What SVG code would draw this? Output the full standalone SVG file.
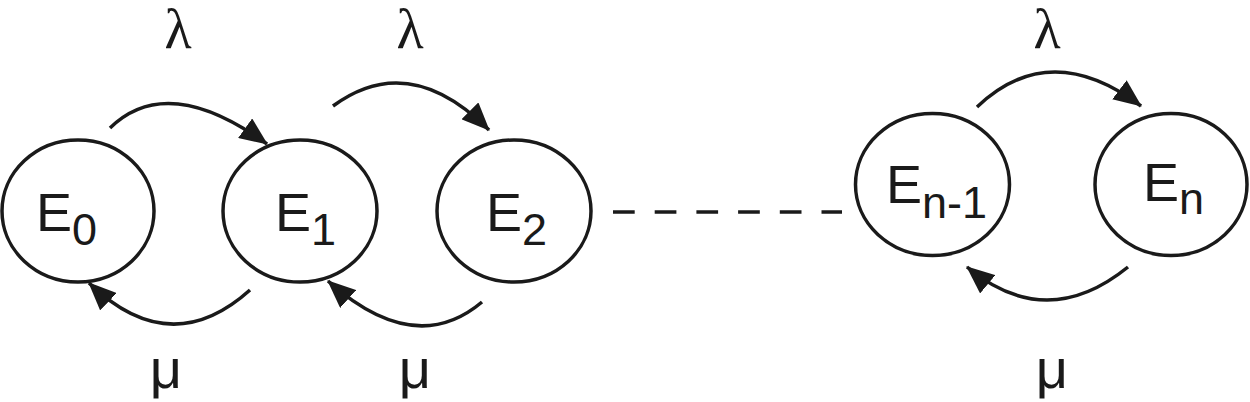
<svg xmlns="http://www.w3.org/2000/svg" width="1250" height="402" viewBox="0 0 1250 402">
<style>
.node{fill:#fff;stroke:#1a1a1a;stroke-width:3.5}
.lbl{font-family:"Liberation Sans",Arial,sans-serif;font-size:54px;fill:#1a1a1a}
.sub{font-size:45px}
.lam{font-family:"Liberation Serif","Times New Roman",serif;font-size:56px;fill:#1a1a1a;text-anchor:middle}
.mu{font-family:"Liberation Sans",Arial,sans-serif;font-size:56px;fill:#1a1a1a;text-anchor:middle}
.edge{fill:none;stroke:#1a1a1a;stroke-width:3.5;marker-end:url(#ah)}
.dash{fill:none;stroke:#1a1a1a;stroke-width:3.5;stroke-dasharray:21.7 20}
</style>
<defs>
<marker id="ah" markerUnits="userSpaceOnUse" markerWidth="28" markerHeight="24" refX="27" refY="12" orient="auto">
<path d="M0,0 L28,12 L0,24 z" fill="#1a1a1a"/>
</marker>
</defs>
<rect width="1250" height="402" fill="#fff"/>
<g id="connectors">
<path class="edge" d="M110,128 Q167.5,72 267,144"/>
<path class="edge" d="M333,106 Q409,50 489,130"/>
<path class="edge" d="M977,107 Q1050,37.5 1141,106"/>
<path class="edge" d="M250,290 Q170.5,361.5 89,283"/>
<path class="edge" d="M482,302 Q415,358.5 328,281"/>
<path class="edge" d="M1128,267 Q1046.5,333 967,267"/>
<path class="dash" d="M613,212 H842"/>
</g>
<g id="E0">
<ellipse class="node" cx="78" cy="211" rx="76" ry="71"/>
<text class="lbl" x="36" y="231">E<tspan class="sub" dy="14">0</tspan></text>
</g>
<g id="E1">
<ellipse class="node" cx="300" cy="211" rx="77" ry="71"/>
<text class="lbl" x="275" y="231">E<tspan class="sub" dy="14">1</tspan></text>
</g>
<g id="E2">
<ellipse class="node" cx="514" cy="211" rx="77" ry="71"/>
<text class="lbl" x="486" y="231">E<tspan class="sub" dy="14">2</tspan></text>
</g>
<g id="En-1">
<ellipse class="node" cx="932.5" cy="184.5" rx="77" ry="71"/>
<text class="lbl" x="886" y="203">E<tspan class="sub" dy="15">n-1</tspan></text>
</g>
<g id="En">
<ellipse class="node" cx="1171" cy="184.5" rx="76" ry="71"/>
<text class="lbl" x="1143" y="201">E<tspan class="sub" dy="13">n</tspan></text>
</g>
<g id="labels">
<text class="lam" x="178" y="48">λ</text>
<text class="lam" x="410" y="48">λ</text>
<text class="lam" x="1047" y="48">λ</text>
<text class="mu" x="166" y="388">μ</text>
<text class="mu" x="415" y="388">μ</text>
<text class="mu" x="1052" y="388">μ</text>
</g>
</svg>
